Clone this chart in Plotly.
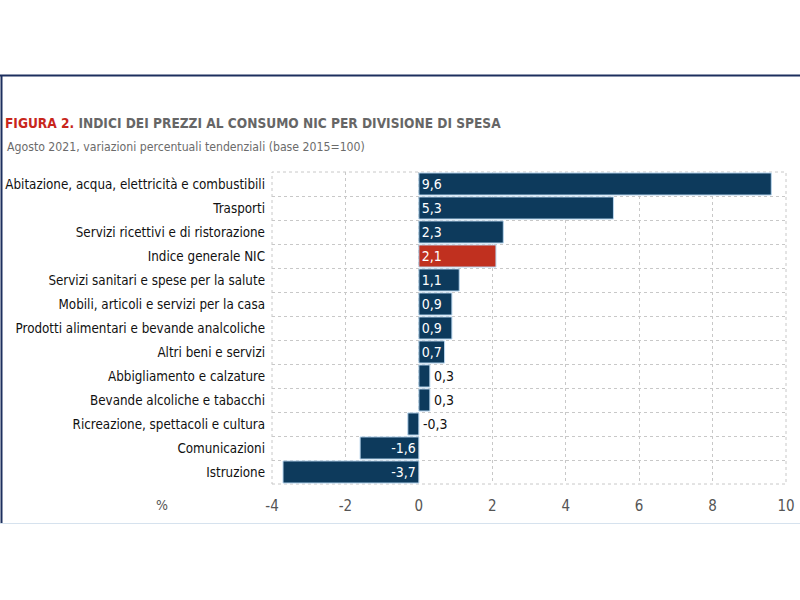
import plotly.graph_objects as go

categories = [
    "Abitazione, acqua, elettricità e combustibili",
    "Trasporti",
    "Servizi ricettivi e di ristorazione",
    "Indice generale NIC",
    "Servizi sanitari e spese per la salute",
    "Mobili, articoli e servizi per la casa",
    "Prodotti alimentari e bevande analcoliche",
    "Altri beni e servizi",
    "Abbigliamento e calzature",
    "Bevande alcoliche e tabacchi",
    "Ricreazione, spettacoli e cultura",
    "Comunicazioni",
    "Istruzione",
]
values = [9.6, 5.3, 2.3, 2.1, 1.1, 0.9, 0.9, 0.7, 0.3, 0.3, -0.3, -1.6, -3.7]
tick_vals = [-4, -2, 0, 2, 4, 6, 8, 10]

NAVY = "#0d3a5c"
RED = "#c0301f"
FONT = "DejaVu Sans Condensed, Liberation Sans Narrow, sans-serif"

W, H = 800, 600
ML, MR, MT, MB = 272, 14, 172, 116
PW, PH = W - ML - MR, H - MT - MB

def px_x(p):
    return (p - ML) / PW

def px_y(p):
    return 1 - (p - MT) / PH

fmt = lambda v: f"{v:.1f}".replace(".", ",")
colors = [RED if c == "Indice generale NIC" else NAVY for c in categories]
inside_text = [fmt(v) if abs(v) >= 0.5 else "" for v in values]

fig = go.Figure()
fig.add_trace(go.Bar(
    x=values, y=categories, orientation="h",
    marker=dict(color=colors, line=dict(color="#b9d6ee", width=1)),
    text=inside_text, textposition="inside", insidetextanchor="start",
    textfont=dict(color="white", size=14, family=FONT),
    width=0.92, cliponaxis=False, hoverinfo="skip",
))

annotations = []
for c, v in zip(categories, values):
    if abs(v) < 0.5:
        annotations.append(dict(
            x=max(v, 0), y=c, xref="x", yref="y", text=fmt(v),
            xanchor="left", yanchor="middle", xshift=2, showarrow=False,
            font=dict(color="#111", size=14, family=FONT),
        ))

annotations.append(dict(
    x=px_x(5), y=px_y(147), xref="paper", yref="paper", xanchor="left", yanchor="middle",
    text="Agosto 2021, variazioni percentuali tendenziali (base 2015=100)",
    showarrow=False, font=dict(color="#6b6b6b", size=12.2, family=FONT),
))
annotations.append(dict(
    x=px_x(162), y=px_y(505), xref="paper", yref="paper", xanchor="center", yanchor="middle",
    text="%", showarrow=False, font=dict(color="#555", size=14, family=FONT),
))

shapes = [
    dict(type="rect", xref="paper", yref="paper", x0=0, x1=1, y0=0, y1=1,
         line=dict(color="#c8c8c8", width=1, dash="dot"), layer="below"),
    dict(type="line", xref="paper", yref="paper", x0=px_x(0), x1=px_x(800), y0=px_y(75.5), y1=px_y(75.5),
         line=dict(color="#1c2f5e", width=2)),
    dict(type="line", xref="paper", yref="paper", x0=px_x(1.5), x1=px_x(1.5), y0=px_y(75), y1=px_y(523),
         line=dict(color="#1c2f5e", width=2)),
    dict(type="line", xref="paper", yref="paper", x0=px_x(0), x1=px_x(800), y0=px_y(523.5), y1=px_y(523.5),
         line=dict(color="#d6e2ee", width=1)),
]

fig.update_layout(
    width=W, height=H,
    margin=dict(l=ML, r=MR, t=MT, b=MB, autoexpand=False),
    paper_bgcolor="white", plot_bgcolor="white",
    showlegend=False,
    title=dict(
        text="<b><span style='color:#c8261c'>FIGURA 2.</span> INDICI DEI PREZZI AL CONSUMO NIC PER DIVISIONE DI SPESA</b>",
        xref="container", yref="container", x=5 / W, xanchor="left",
        y=1 - 123 / H, yanchor="middle",
        font=dict(color="#666666", size=13.6, family=FONT),
    ),
    xaxis=dict(
        range=[-4, 10], tickvals=tick_vals, ticktext=[str(t) for t in tick_vals],
        showgrid=True, gridcolor="#c8c8c8", griddash="dot", gridwidth=1,
        zeroline=False, showline=False, ticks="", automargin=False, ticklabelstandoff=11,
        tickfont=dict(color="#555", size=15, family=FONT),
        fixedrange=True,
    ),
    yaxis=dict(
        categoryorder="array", categoryarray=categories, autorange="reversed",
        tickson="boundaries", showgrid=True, gridcolor="#c8c8c8", griddash="dot", gridwidth=1,
        zeroline=False, showline=False, ticks="", ticklabelstandoff=6, automargin=False,
        tickfont=dict(color="#111", size=13.3, family=FONT),
        fixedrange=True,
    ),
    uniformtext=dict(minsize=14, mode="show"),
    annotations=annotations,
    shapes=shapes,
)

fig.write_html("out.html")
